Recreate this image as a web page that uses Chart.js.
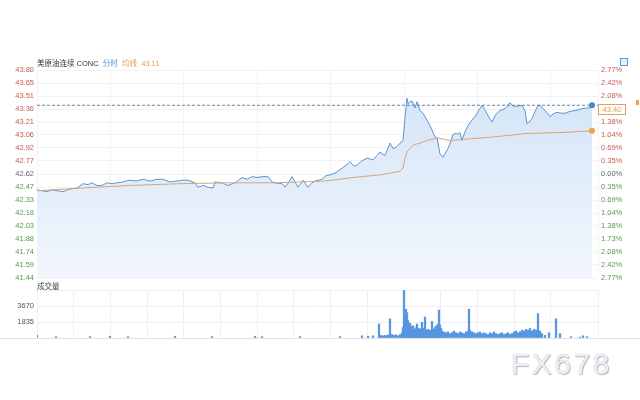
<!DOCTYPE html>
<html>
<head>
<meta charset="utf-8">
<script src="https://cdn.jsdelivr.net/npm/chart.js@4.4.1/dist/chart.umd.min.js"></script>
<style>
body{margin:0;background:#fff;font-family:"Liberation Sans",Arial,sans-serif;}
#wrap{position:relative;width:640px;height:400px;overflow:hidden;background:#fff;}
canvas{position:absolute;left:0;top:0;}
.txt{position:absolute;font-size:7.5px;line-height:10px;white-space:nowrap;font-family:"Liberation Sans","Noto Sans CJK SC",sans-serif;}
#title{left:37px;top:59px;color:#333;}
#title .blue{color:#4a8fd8;}
#title .orange{color:#e3a04e;}
#volTitle{left:37px;top:282px;color:#444;}
#priceBox{left:598px;top:104px;width:26px;height:9px;border:1px solid #e8a24a;background:#fff;color:#e3a04e;line-height:9px;text-align:center;}
#icon{position:absolute;left:620px;top:58px;width:6px;height:6px;border:1px solid #5b9bd5;background:#e6f0fa;}
#pin{position:absolute;left:636px;top:100px;width:3px;height:5px;background:#e8a24a;}
#bottomLine{position:absolute;left:0;top:338px;width:640px;height:1px;background:#e2e2e2;}
#mark{position:absolute;left:511px;top:349px;font-size:30px;line-height:30px;letter-spacing:2.5px;color:#eef0f3;text-shadow:0 0 1px #9aa3ae,1px 1px 1px #b4bbc4;font-family:"Liberation Sans",Arial,sans-serif;}
</style>
</head>
<body>
<div id="wrap">
<canvas id="priceChart" width="640" height="400"></canvas>
<canvas id="volChart" width="640" height="400"></canvas>
<div id="bottomLine"></div>
<div class="txt" id="title">美原油连续 CONC&nbsp;&nbsp;<span class="blue">分时</span>&nbsp;&nbsp;<span class="orange">均线&nbsp;&nbsp;43.11</span></div>
<div class="txt" id="volTitle">成交量</div>
<div class="txt" id="priceBox">43.40</div>
<div id="icon"></div>
<div id="pin"></div>
<div id="mark">FX678</div>
</div>
<script>
//Price axis tick labels (top to bottom)
const priceLabels = ["43.80","43.65","43.51","43.36","43.21","43.06","42.92","42.77","42.62","42.47","42.33","42.18","42.03","41.88","41.74","41.59","41.44"];
const pctLabels = ["2.77%","2.42%","2.08%","1.73%","1.38%","1.04%","0.69%","0.35%","0.00%","0.35%","0.69%","1.04%","1.38%","1.73%","2.08%","2.42%","2.77%"];
const priceMin = 41.44;
const priceMax = 43.80;
const sessionEnd = 561;
const lastPrice = 43.40;

//Minute line (time index, price)
const priceX = [0,5,10,15,20,26,33,40,46,51,55,60,65,70,75,80,86,93,100,106,113,120,126,133,140,146,151,158,161,166,171,176,178,185,191,198,205,210,215,220,225,231,235,238,245,248,252,255,258,261,266,271,275,278,285,289,293,298,303,308,313,317,320,325,330,333,336,340,343,348,353,356,359,363,366,368,370,371,373,375,378,380,383,386,390,393,395,398,400,403,406,409,411,414,416,419,421,423,425,428,431,434,438,441,445,448,451,455,458,460,463,468,473,476,480,485,488,490,493,495,498,501,503,506,510,513,516,520,524,528,533,538,545,550,553,555];
const prices = [42.44,42.43,42.42,42.44,42.43,42.42,42.45,42.46,42.51,42.50,42.52,42.49,42.49,42.52,42.51,42.52,42.53,42.55,42.54,42.56,42.54,42.56,42.56,42.53,42.54,42.55,42.55,42.52,42.47,42.49,42.47,42.46,42.53,42.52,42.49,42.52,42.58,42.56,42.59,42.58,42.59,42.59,42.53,42.52,42.51,42.47,42.53,42.59,42.53,42.47,42.55,42.47,42.52,42.54,42.56,42.60,42.61,42.63,42.67,42.71,42.76,42.71,42.72,42.77,42.80,42.79,42.78,42.83,42.87,42.83,42.97,42.91,42.92,42.97,43.00,43.26,43.48,43.42,43.44,43.45,43.37,43.44,43.34,43.31,43.23,43.17,43.12,43.04,43.03,42.85,42.81,42.87,42.91,43.00,43.07,43.08,43.07,43.09,43.00,43.10,43.17,43.22,43.27,43.33,43.40,43.35,43.28,43.21,43.28,43.31,43.34,43.36,43.43,43.39,43.39,43.40,43.34,43.19,43.22,43.25,43.33,43.40,43.40,43.36,43.32,43.27,43.30,43.32,43.31,43.31,43.33,43.34,43.36,43.37,43.37,43.40];

//Average line (time index, price)
const avgX = [0,43,93,143,193,238,288,316,343,363,366,368,370,373,376,383,390,400,413,423,456,490,523,555];
const avgPrices = [42.43,42.46,42.49,42.51,42.52,42.52,42.54,42.58,42.61,42.65,42.69,42.80,42.87,42.91,42.95,42.97,43.00,43.03,43.00,43.01,43.04,43.08,43.09,43.11];

//Volume (time index, lots)
const volX = [0,19,53,73,91,138,175,218,225,263,303,325,331,336,342,344,346,348,350,351,353,355,357,359,361,363,365,366,367,368,369,370,371,372,373,374,375,376,377,378,379,380,381,382,383,384,385,386,387,388,389,390,391,392,393,394,395,396,397,398,399,400,401,402,403,404,405,407,409,411,413,415,417,419,421,423,425,427,429,431,432,433,435,437,439,441,443,445,447,449,451,453,455,457,459,461,463,465,467,469,471,473,475,477,479,481,483,485,487,489,491,493,495,497,499,500,501,503,505,508,512,519,523,534,543,546,550];
const volumes = [300,150,150,200,150,200,150,200,150,150,150,250,200,250,1600,300,250,300,250,350,2200,400,300,350,250,400,600,1200,5450,2300,3300,2900,2000,1500,1700,1300,1100,1400,1000,900,1200,1600,900,1100,800,1000,1800,900,1100,2400,900,800,1000,700,900,800,1900,800,1000,1200,1400,1300,1600,3200,1500,1100,800,700,600,700,500,600,800,600,500,700,600,500,700,800,3300,900,700,600,500,600,700,500,600,500,400,600,500,700,500,400,500,600,400,500,600,400,500,700,800,600,700,900,800,1000,900,1100,800,1000,900,700,2800,800,500,300,600,2200,500,150,100,250,150,300];
const volMax = 5505;
const volStep = 1835;

const red = "#c65a4c";
const green = "#4f9f45";
const gray = "#666";
const tickFont = { family: "Liberation Sans", size: 7.5 };

function fixWidth(w) {
    return function(axis) {
        axis.width = w;
        axis.paddingTop = 0;
        axis.paddingBottom = 0;
    };
}

function lastOnly(r) {
    return ctx => ctx.dataIndex === ctx.dataset.data.length - 1 ? r : 0;
}

function priceColor(ctx) {
    const i = 16 - ctx.index;
    if (i < 8) return red;
    if (i === 8) return gray;
    return green;
}

function setPriceTicks(axis) {
    const step = (priceMax - priceMin) / 16;
    axis.ticks = priceLabels.map((_, i) => ({ value: priceMin + i * step }));
}

//Price chart
new Chart(document.querySelector("#priceChart"), {
    type: "line",
    data: {
        datasets: [
            {
                label: "分时",
                data: priceX.map((x, i) => ({ x: x, y: prices[i] })),
                borderColor: "#5a96d6",
                borderWidth: 1,
                pointRadius: lastOnly(3),
                pointBackgroundColor: "#3f86d6",
                pointBorderWidth: 0,
                tension: 0,
                fill: "start",
                backgroundColor: function(context) {
                    const chart = context.chart;
                    const area = chart.chartArea;
                    if (!area) return "#e3eefa";
                    const g = chart.ctx.createLinearGradient(0, area.top, 0, area.bottom);
                    g.addColorStop(0, "#d0e2f6");
                    g.addColorStop(1, "#f2f7fd");
                    return g;
                },
                order: 2
            },
            {
                label: "均线",
                data: avgX.map((x, i) => ({ x: x, y: avgPrices[i] })),
                borderColor: "#dba574",
                borderWidth: 1,
                pointRadius: lastOnly(3),
                pointBackgroundColor: "#e8a24a",
                pointBorderWidth: 0,
                tension: 0,
                fill: false,
                order: 1
            },
            {
                label: "现价",
                data: [{ x: 0, y: lastPrice }, { x: sessionEnd, y: lastPrice }],
                borderColor: "#5a84b0",
                borderWidth: 1,
                borderDash: [3, 2],
                pointRadius: 0,
                fill: false,
                order: 0
            }
        ]
    },
    options: {
        responsive: false,
        animation: false,
        layout: { padding: { top: 70, bottom: 122, left: 0, right: 0 } },
        plugins: { legend: { display: false }, tooltip: { enabled: false } },
        scales: {
            x: {
                type: "linear",
                min: 0,
                max: sessionEnd,
                ticks: { display: false, stepSize: 73.4 },
                grid: { color: "#f3f3f3", drawTicks: false },
                border: { display: false },
                afterFit: axis => { axis.height = 0; }
            },
            y: {
                position: "left",
                min: priceMin,
                max: priceMax,
                afterBuildTicks: setPriceTicks,
                afterFit: fixWidth(37),
                ticks: {
                    font: tickFont,
                    padding: 3,
                    color: priceColor,
                    callback: (v, i) => priceLabels[16 - i]
                },
                grid: { color: "#f2f2f2", drawTicks: false },
                border: { display: false }
            },
            y2: {
                position: "right",
                min: priceMin,
                max: priceMax,
                afterBuildTicks: setPriceTicks,
                afterFit: fixWidth(42),
                ticks: {
                    font: tickFont,
                    padding: 3,
                    color: priceColor,
                    callback: (v, i) => pctLabels[16 - i]
                },
                grid: { display: false, drawTicks: false },
                border: { display: false }
            }
        }
    }
});

//Volume chart
new Chart(document.querySelector("#volChart"), {
    type: "bar",
    data: {
        datasets: [{
            label: "成交量",
            data: volX.map((x, i) => ({ x: x, y: volumes[i] })),
            backgroundColor: "#5796e0",
            barThickness: 1.6
        }]
    },
    options: {
        responsive: false,
        animation: false,
        layout: { padding: { top: 290, bottom: 62, left: 0, right: 42 } },
        plugins: { legend: { display: false }, tooltip: { enabled: false } },
        scales: {
            x: {
                type: "linear",
                min: 0,
                max: sessionEnd,
                offset: false,
                ticks: { display: false, stepSize: 36.7 },
                grid: { color: "#f0f0f0", drawTicks: false, offset: false },
                border: { display: false },
                afterFit: axis => { axis.height = 0; }
            },
            y: {
                min: 0,
                max: volMax,
                afterFit: fixWidth(37),
                ticks: {
                    font: tickFont,
                    padding: 3,
                    color: "#555",
                    stepSize: volStep,
                    callback: v => (v > 0 && v < volMax ? String(v) : "")
                },
                grid: { color: "#f0f0f0", drawTicks: false },
                border: { display: false }
            }
        }
    }
});
</script>
</body>
</html>
